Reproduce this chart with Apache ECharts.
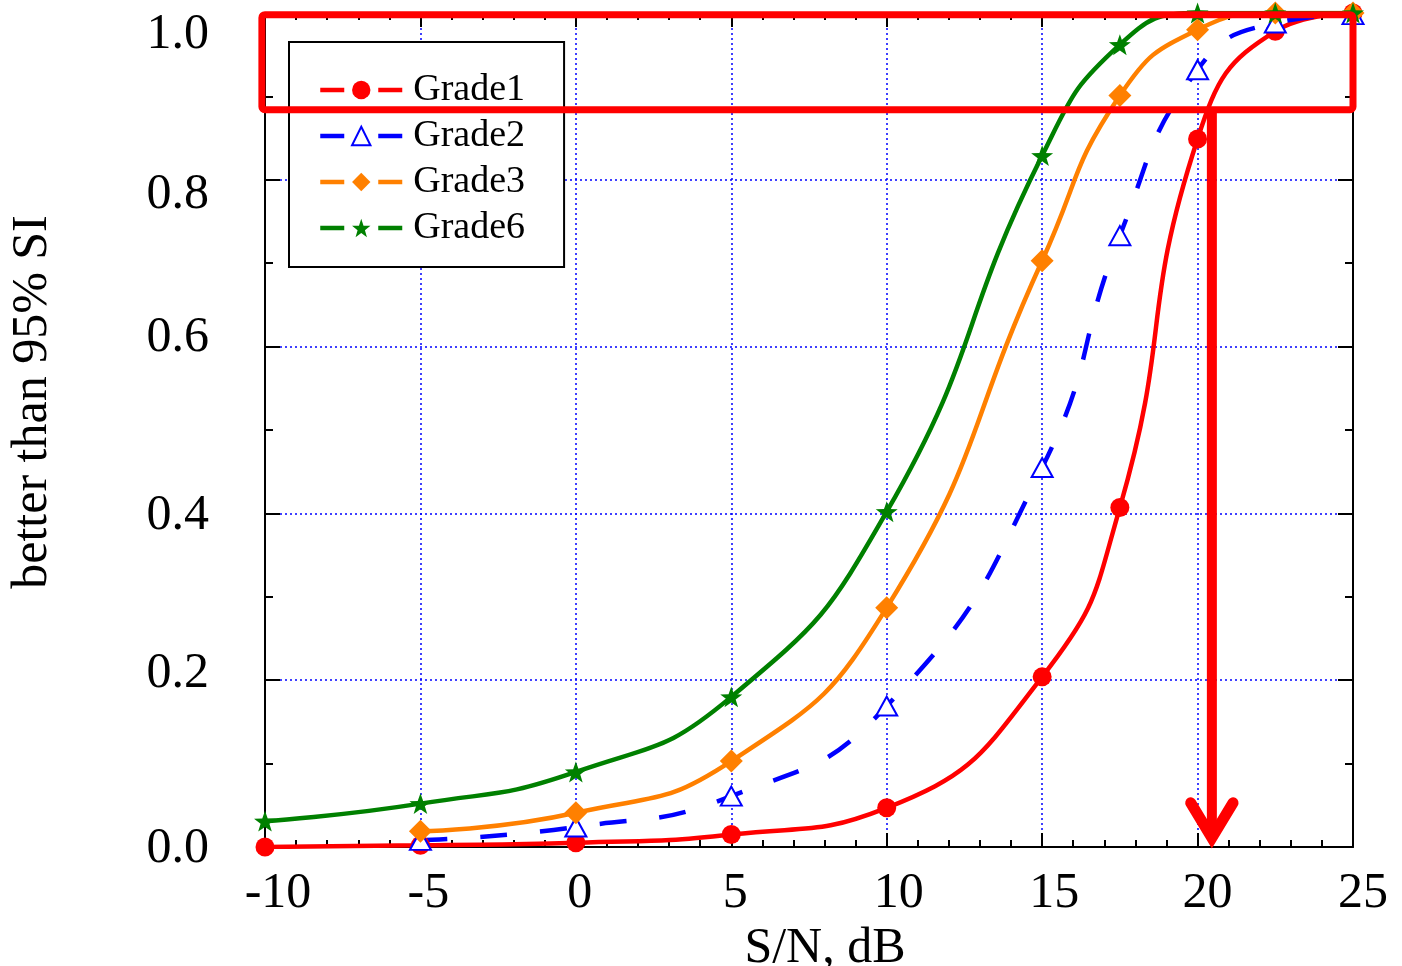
<!DOCTYPE html>
<html><head><meta charset="utf-8">
<script src="https://cdn.jsdelivr.net/npm/echarts@6/dist/echarts.min.js"></script>
<style>html,body{margin:0;padding:0;background:#fff}#c{width:1402px;height:966px}</style>
</head><body><div id="c"></div>
<script>
// ---- data ----
const snr    = [-10, -5, 0, 5, 10, 15, 17.5, 20, 22.5, 25];
const grade1 = [0.0, 0.002, 0.005, 0.015, 0.047, 0.204, 0.407, 0.849, 0.978, 1.0];
const grade2 = [null, 0.008, 0.024, 0.061, 0.169, 0.455, 0.733, 0.932, 0.988, 0.998];
const grade3 = [null, 0.019, 0.041, 0.103, 0.287, 0.703, 0.901, 0.980, 1.0, 1.0];
const grade6 = [0.031, 0.052, 0.090, 0.180, 0.402, 0.829, 0.962, 1.0, 1.0, 1.0];
const seriesNames = ['Grade1', 'Grade2', 'Grade3', 'Grade6'];
const xTickLabels = ['-10', '-5', '0', '5', '10', '15', '20', '25'];
const yTickLabels = ['0.0', '0.2', '0.4', '0.6', '0.8', '1.0'];
const xTitle = 'S/N, dB';
const yTitle = 'better than 95% SI';

// ---- styling ----
const FONT = 'Liberation Serif';
function pairs(ys) { const out = []; ys.forEach((v, i) => { if (v !== null) out.push([snr[i], v]); }); return out; }
function starPath() {
  const p = [];
  for (let i = 0; i < 10; i++) {
    const a = -Math.PI / 2 + i * Math.PI / 5, r = i % 2 === 0 ? 50 : 20;
    p.push((50 + r * Math.cos(a)).toFixed(2) + ',' + (50 + r * Math.sin(a)).toFixed(2));
  }
  return 'path://M' + p.join('L') + 'Z';
}
// small per-label nudges (pixels) copying the reference's label placement
const yShift = [2, -6, 2, -9, 15, 22];
const xShift = [13, 8, 4, 4, 12, 12, 10, 10];
const yRich = {}, xRich = {};
yShift.forEach((d, i) => { yRich['y' + i] = { fontFamily: FONT, fontSize: 50, color: '#000', padding: d >= 0 ? [2 * d, 0, 0, 0] : [0, 0, -2 * d, 0] }; });
xShift.forEach((d, i) => { xRich['x' + i] = { fontFamily: FONT, fontSize: 50, color: '#000', padding: [0, 0, 0, 2 * d] }; });
function snrTickIndex(v) { return Math.round((v + 10) / 5); }

const chart = echarts.init(document.getElementById('c'), null, { renderer: 'canvas' });
const axisCommon = {
  type: 'value',
  axisLine: { show: true, onZero: false, lineStyle: { color: '#000', width: 2 } },
};
const gridLine = { show: true, lineStyle: { color: '#0000ff', width: 1.5, type: [2, 3] } };
const LW = 4.5;
const SMOOTH = 0.5;
const option = {
  backgroundColor: '#fff',
  animation: false,
  grid: { left: 265, right: 49, top: 13, bottom: 119, outerBoundsMode: 'none', containLabel: false },
  xAxis: [
    Object.assign({}, axisCommon, {
      position: 'bottom', min: -10, max: 25, interval: 5,
      axisTick: { inside: true, length: 14, lineStyle: { color: '#000', width: 2 } },
      minorTick: { show: true, splitNumber: 5, length: 7, lineStyle: { color: '#000', width: 2 } },
      axisLabel: {
        margin: 22, fontFamily: FONT, fontSize: 50, color: '#000', rich: xRich,
        formatter: v => { const i = snrTickIndex(v); return '{x' + i + '|' + xTickLabels[i] + '}'; }
      },
      splitLine: gridLine,
      name: xTitle, nameLocation: 'middle', nameGap: 64,
      nameTextStyle: { fontFamily: FONT, fontSize: 50, color: '#000', padding: [0, 0, 0, 32] }
    }),
    Object.assign({}, axisCommon, {
      position: 'top', min: -10, max: 25, interval: 5,
      axisTick: { inside: true, length: 14, lineStyle: { color: '#000', width: 2 } },
      minorTick: { show: true, splitNumber: 5, length: 7, lineStyle: { color: '#000', width: 2 } },
      axisLabel: { show: false }, splitLine: { show: false }
    })
  ],
  yAxis: [
    Object.assign({}, axisCommon, {
      position: 'left', min: 0, max: 1, interval: 0.2,
      axisTick: { inside: true, length: 15, lineStyle: { color: '#000', width: 2 } },
      minorTick: { show: true, splitNumber: 2, length: 8, lineStyle: { color: '#000', width: 2 } },
      axisLabel: {
        margin: 56, fontFamily: FONT, fontSize: 50, color: '#000', rich: yRich,
        formatter: v => { const i = Math.round(v / 0.2); return '{y' + i + '|' + yTickLabels[i] + '}'; }
      },
      splitLine: gridLine,
      name: yTitle, nameLocation: 'middle', nameGap: 207,
      nameTextStyle: { fontFamily: FONT, fontSize: 50, color: '#000', padding: [0, 0, 0, 56] }
    }),
    Object.assign({}, axisCommon, {
      position: 'right', min: 0, max: 1, interval: 0.2,
      axisTick: { inside: true, length: 15, lineStyle: { color: '#000', width: 2 } },
      minorTick: { show: true, splitNumber: 2, length: 8, lineStyle: { color: '#000', width: 2 } },
      axisLabel: { show: false }, splitLine: { show: false }
    })
  ],
  legend: {
    orient: 'vertical', left: 289, top: 42,
    padding: [29, 39, 20, 29], itemGap: 8, itemWidth: 82, itemHeight: 23,
    backgroundColor: '#fff', borderColor: '#000', borderWidth: 2, borderRadius: 0,
    textStyle: { fontFamily: FONT, fontSize: 38, color: '#000', padding: [0, 0, 0, 6] },
    lineStyle: { type: [24, 34], width: 4.5 },
    data: seriesNames
  },
  series: [
    { name: seriesNames[0], type: 'line', data: pairs(grade1), smooth: SMOOTH,
      symbol: 'circle', symbolSize: 19, color: '#ff0000',
      lineStyle: { color: '#ff0000', width: LW }, itemStyle: { color: '#ff0000', borderWidth: 0 } },
    { name: seriesNames[1], type: 'line', data: pairs(grade2), smooth: SMOOTH,
      symbol: 'emptyTriangle', symbolSize: [21, 19], color: '#0000ff',
      lineStyle: { color: '#0000ff', width: LW, type: [27, 33] }, itemStyle: { color: '#0000ff', borderColor: '#0000ff', borderWidth: 2.5 } },
    { name: seriesNames[2], type: 'line', data: pairs(grade3), smooth: SMOOTH,
      symbol: 'diamond', symbolSize: 23, color: '#ff8000',
      lineStyle: { color: '#ff8000', width: LW }, itemStyle: { color: '#ff8000', borderWidth: 0 } },
    { name: seriesNames[3], type: 'line', data: pairs(grade6), smooth: SMOOTH,
      symbol: starPath(), symbolKeepAspect: true, symbolSize: 22, color: '#008000',
      lineStyle: { color: '#008000', width: LW }, itemStyle: { color: '#008000', borderWidth: 0 } }
  ]
};
chart.setOption(option);

// ---- red highlight annotations placed in data coordinates ----
const box = { x0: -10.1, x1: 25, y0: 0.884, y1: 0.998 };
const arrowX = 20.46;
const px = p => chart.convertToPixel({ gridIndex: 0 }, p);
const b0 = px([box.x0, box.y1]), b1 = px([box.x1, box.y0]);
const s0 = px([arrowX, box.y0]), s1 = px([arrowX, 0.02]);
const hl = px([arrowX - 0.68, 0.053]), ht = px([arrowX, 0.011]), hr = px([arrowX + 0.68, 0.053]);
chart.setOption({
  graphic: [
    { type: 'rect', z: 100, shape: { x: b0[0], y: b0[1], width: b1[0] - b0[0], height: b1[1] - b0[1], r: 3 },
      style: { fill: null, stroke: '#ff0000', lineWidth: 7 } },
    { type: 'line', z: 100, shape: { x1: s0[0], y1: s0[1], x2: s1[0], y2: s1[1] },
      style: { stroke: '#ff0000', lineWidth: 10 } },
    { type: 'polyline', z: 100, shape: { points: [hl, ht, hr] },
      style: { stroke: '#ff0000', lineWidth: 11, lineCap: 'round', lineJoin: 'miter', fill: null } }
  ]
});
</script>
</body></html>
